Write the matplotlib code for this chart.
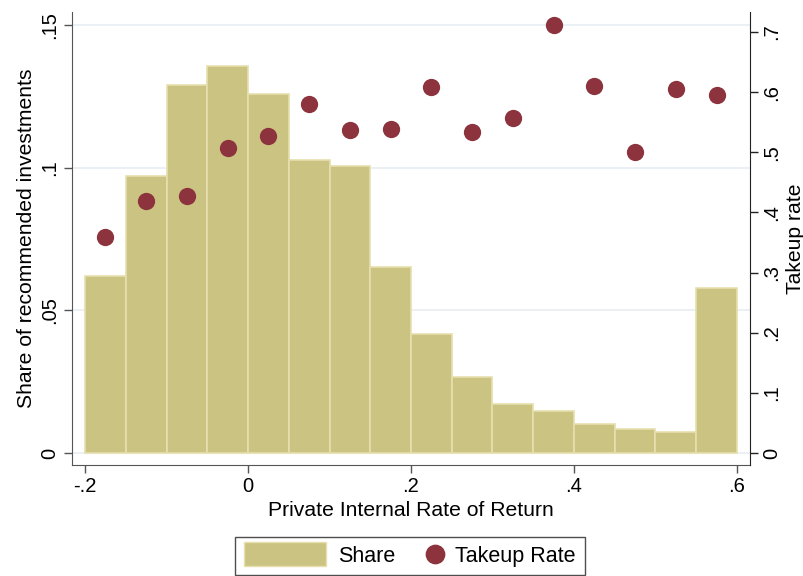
import matplotlib
matplotlib.use("Agg")
import matplotlib.pyplot as plt
from matplotlib.lines import Line2D
from matplotlib.patches import Patch, Rectangle
from matplotlib.legend_handler import HandlerBase

plt.rcParams['font.family'] = ['Liberation Sans', 'DejaVu Sans']

# Data
bin_left = [-0.20, -0.15, -0.10, -0.05, 0.00, 0.05, 0.10, 0.15,
            0.20, 0.25, 0.30, 0.35, 0.40, 0.45, 0.50, 0.55]
bin_width = 0.05
share = [0.062, 0.097, 0.129, 0.1356, 0.1257, 0.1028, 0.1005, 0.0653,
         0.0417, 0.0265, 0.0171, 0.0147, 0.0103, 0.0083, 0.0075, 0.058]
takeup = [0.360, 0.419, 0.427, 0.507, 0.528, 0.581, 0.537, 0.539,
          0.608, 0.534, 0.557, 0.711, 0.611, 0.500, 0.606, 0.596]
x_ticks = [-0.2, 0.0, 0.2, 0.4, 0.6]
x_ticklabels = ['-.2', '0', '.2', '.4', '.6']
yl_ticks = [0, 0.05, 0.10, 0.15]
yl_ticklabels = ['0', '.05', '.1', '.15']
yr_ticks = [0, 0.1, 0.2, 0.3, 0.4, 0.5, 0.6, 0.7]
yr_ticklabels = ['0', '.1', '.2', '.3', '.4', '.5', '.6', '.7']

bar_color = '#CBC381'
bar_edge = '#E6DFAE'
dot_color = '#8C333D'

TICK_FS = 14.5
LABEL_FS = 15.2
LEG_FS = 15.5

fig = plt.figure(figsize=(8.04, 5.76), dpi=100)
ax = fig.add_axes([72/804, 1 - 465/576, (750 - 72)/804, (465 - 12)/576])

ax.bar(bin_left, share, width=bin_width, align='edge', color=bar_color,
       edgecolor=bar_edge, linewidth=1.2, zorder=2)
ax.set_xlim(-0.216, 0.616)
ax.set_ylim(-0.0042, 0.1546)
ax.set_xticks(x_ticks)
ax.set_xticklabels(x_ticklabels)
ax.set_yticks(yl_ticks)
ax.set_yticklabels(yl_ticklabels, rotation=90, va='center')
ax.grid(axis='y', color='#E6EDF1', linewidth=1.2, zorder=0)
ax.set_axisbelow(True)
ax.set_xlabel('Private Internal Rate of Return', fontsize=LABEL_FS, labelpad=3)
ax.set_ylabel('Share of recommended investments', fontsize=LABEL_FS, labelpad=3)
for s in ['top', 'right']:
    ax.spines[s].set_visible(False)
ax.spines['left'].set_color('#555555')
ax.spines['bottom'].set_color('#555555')
ax.tick_params(axis='both', direction='out', length=6, width=1, labelsize=TICK_FS,
               color='#555555', pad=3)

ax2 = ax.twinx()
centers = [b + bin_width / 2 for b in bin_left]
ax2.scatter(centers, takeup, s=155, color=dot_color, zorder=3, linewidths=0)
ax2.set_ylim(-0.020, 0.7334)
ax2.set_yticks(yr_ticks)
ax2.set_yticklabels(yr_ticklabels, rotation=90, va='center')
ax2.set_ylabel('Takeup rate', fontsize=LABEL_FS, labelpad=3)
for s in ['top', 'left', 'bottom']:
    ax2.spines[s].set_visible(False)
ax2.spines['right'].set_color('#222222')
ax2.tick_params(axis='y', direction='out', length=6, width=1, labelsize=TICK_FS,
                color='#222222', pad=3)


class WideRectHandler(HandlerBase):
    def __init__(self, width_pt, height_pt):
        super().__init__()
        self.w = width_pt
        self.h = height_pt

    def legend_artist(self, legend, orig_handle, fontsize, handlebox):
        handlebox.width = self.w
        y0 = -handlebox.ydescent + (handlebox.height - self.h) / 2
        rect = Rectangle((-handlebox.xdescent, y0), self.w, self.h,
                         facecolor=orig_handle.get_facecolor(),
                         edgecolor=orig_handle.get_edgecolor(), linewidth=1.0)
        handlebox.add_artist(rect)
        return rect


share_handle = Patch(facecolor=bar_color, edgecolor=bar_edge, label='Share')
dot_handle = Line2D([], [], marker='o', linestyle='none', markersize=13.2,
                    markerfacecolor=dot_color, markeredgecolor=dot_color,
                    label='Takeup Rate')
leg = fig.legend(handles=[share_handle, dot_handle], loc='center',
                 bbox_to_anchor=(410/804, 1 - 556/576),
                 ncol=2, frameon=True, fancybox=False, edgecolor='#222222',
                 fontsize=LEG_FS, handlelength=0.8, handleheight=0.9,
                 columnspacing=1.45, handletextpad=0.55, borderpad=0.4,
                 handler_map={Patch: WideRectHandler(59, 17)})
leg.get_frame().set_linewidth(1.0)

fig.savefig('out.png', dpi=100)
